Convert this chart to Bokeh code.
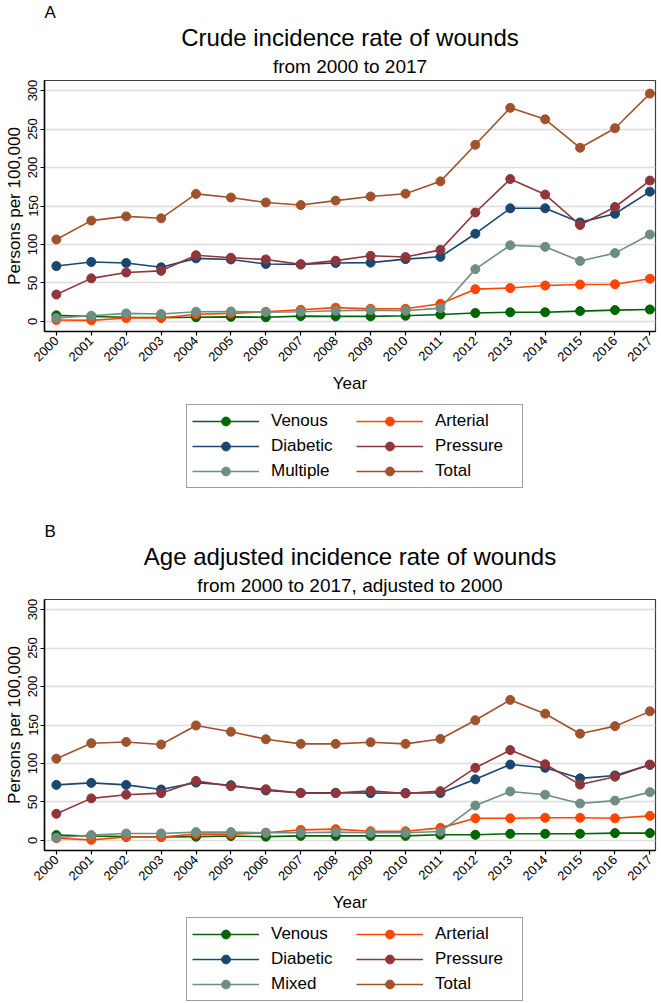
import math
from bokeh.plotting import figure
from bokeh.models import Range1d, FixedTicker, Title, Legend, LegendItem
from bokeh.layouts import column
from bokeh.embed import file_html
from bokeh.resources import INLINE

FONT = "Liberation Sans"

years = list(range(2000, 2018))
year_labels = [str(y) for y in years]
y_ticks = [0, 50, 100, 150, 200, 250, 300]

# Panel A: crude incidence (persons per 100,000)
venous_a = [8, 6.5, 5.5, 5, 5.5, 6, 5.5, 7, 6.7, 6.7, 7.5, 9, 11, 12, 12, 13.5, 14.8, 15.6]
arterial_a = [2, 1.5, 4.5, 4.6, 9.5, 10.5, 12.6, 15.2, 18, 16.5, 16.5, 23, 42, 43.5, 46.7, 48, 48.3, 55.6]
diabetic_a = [72, 77.3, 76, 70.4, 82, 80.6, 74.7, 74.2, 76, 76.4, 81, 84, 114, 147, 147, 128.7, 140, 168.6]
pressure_a = [35, 56, 63.6, 65.8, 86, 82.8, 80.6, 74.2, 79, 85.3, 83.7, 93, 141.5, 185, 164.8, 125.3, 148.7, 183]
multiple_a = [4.6, 7.5, 10.5, 9.7, 12.6, 13, 12.2, 12.6, 13.9, 14.8, 13.9, 17.3, 68, 99, 97, 78.6, 88.8, 113]
total_a = [106.5, 131, 136.5, 134, 165.7, 161, 154.6, 151.2, 157, 162.3, 166, 182, 229.5, 277.5, 262.6, 225.6, 251, 296]

# Panel B: age adjusted incidence
venous_b = [7, 5.8, 5, 4.5, 5, 5.8, 5, 6, 6, 6, 6, 7.4, 7.4, 8.7, 8.7, 8.7, 9.6, 9.6]
arterial_b = [3, 0.8, 4.5, 4.5, 8.3, 8.3, 10, 13.8, 14.7, 12, 12, 16.4, 28.8, 28.8, 29.5, 29.5, 28.8, 32]
diabetic_b = [72.2, 74.8, 72.2, 66.2, 75.2, 71.8, 65, 62, 62, 61.5, 61.7, 61.7, 79.4, 98.6, 94.4, 80.7, 84.5, 98.2]
pressure_b = [34.7, 54.7, 59.5, 61.5, 77.4, 70.5, 66.6, 61.5, 61.5, 64.6, 61.1, 64.1, 94.4, 117.4, 99.1, 72.6, 82.9, 98.6]
mixed_b = [3.6, 7, 9.1, 9.1, 10.9, 10.9, 10, 10, 10.9, 10, 10, 11.6, 45.4, 63.7, 59.5, 48, 51.8, 62.8]
total_b = [106.3, 126.3, 128, 124.7, 149.4, 141.3, 131.5, 125.5, 125.5, 127.6, 125.5, 131.9, 156.2, 182.6, 164.7, 138.7, 148.5, 167.7]

names_a = ["Venous", "Arterial", "Diabetic", "Pressure", "Multiple", "Total"]
names_b = ["Venous", "Arterial", "Diabetic", "Pressure", "Mixed", "Total"]
colors = ["#006400", "#ff4500", "#1a476f", "#90353b", "#6e8e84", "#a0522d"]
legend_order = [0, 2, 4, 1, 3, 5]  # legend columns are filled top to bottom

X0, X1 = 1999.66, 2017.16
Y0, Y1 = -13, 313
W = 661


def panel(letter, title, subtitle, names, series):
    p = figure(width=W, height=397,
               x_range=Range1d(X0, X1), y_range=Range1d(Y0, Y1),
               output_backend="svg", toolbar_location=None,
               min_border_top=76, min_border_left=44, min_border_right=6,
               min_border_bottom=66,
               background_fill_color="white", border_fill_color="white")
    p.outline_line_color = "#404040"
    p.outline_line_width = 1.2
    p.xgrid.visible = False
    p.ygrid.grid_line_color = "#dcdcdc"
    p.ygrid.grid_line_width = 1.5

    p.xaxis.ticker = FixedTicker(ticks=years)
    p.xaxis.major_label_overrides = {y: s for y, s in zip(years, year_labels)}
    p.xaxis.major_label_orientation = math.pi / 4
    p.yaxis.ticker = FixedTicker(ticks=y_ticks)
    p.yaxis.major_label_orientation = "vertical"
    for ax in (p.xaxis, p.yaxis):
        ax.axis_line_color = "black"
        ax.axis_line_width = 1.5
        ax.major_tick_line_color = "black"
        ax.major_tick_line_width = 1.2
        ax.major_tick_out = 4
        ax.major_tick_in = 0
        ax.minor_tick_line_color = None
        ax.major_label_text_font = FONT
        ax.major_label_text_font_size = "13px"
        ax.major_label_text_color = "black"
        ax.axis_label_text_font = FONT
        ax.axis_label_text_font_size = "17px"
        ax.axis_label_text_font_style = "normal"
        ax.axis_label_text_color = "black"
        ax.major_label_standoff = 3
    p.xaxis.axis_label = "Year"
    p.xaxis.axis_label_standoff = 6
    p.yaxis.axis_label = "Persons per 100,000"
    p.yaxis.axis_label_standoff = 2

    for name, vals, col in zip(names, series, colors):
        p.line(years, vals, line_color=col, line_width=1.6)
        p.scatter(years, vals, size=9, fill_color=col, line_color=col)

    # outermost: panel letter; then main title; subtitle closest to the frame
    p.title.text = letter
    p.title.align = "left"
    p.title.text_font = FONT
    p.title.text_font_size = "17px"
    p.title.text_font_style = "normal"
    p.title.text_color = "black"
    p.title.standoff = 0
    p.add_layout(Title(text=subtitle, align="center", text_font=FONT,
                       text_font_size="19px", text_font_style="normal",
                       text_color="black", standoff=7), "above")
    p.add_layout(Title(text=title, align="center", text_font=FONT,
                       text_font_size="24px", text_font_style="normal",
                       text_color="black", standoff=0), "above")
    return p


def legend_fig(names, series, height, bottom):
    # the series are drawn outside this figure's ranges; only the legend shows
    lf = figure(width=W, height=height, x_range=Range1d(0, 1), y_range=Range1d(0, 1),
                output_backend="svg", toolbar_location=None,
                x_axis_location=None, y_axis_location=None,
                min_border=0, outline_line_color=None,
                background_fill_color="white", border_fill_color="white")
    lf.xgrid.visible = False
    lf.ygrid.visible = False
    items = []
    for name, vals, col in zip(names, series, colors):
        ln = lf.line(years, vals, line_color=col, line_width=1.6)
        sc = lf.scatter(years, vals, size=9, fill_color=col, line_color=col)
        items.append(LegendItem(label=name, renderers=[ln, sc]))
    legend = Legend(items=[items[i] for i in legend_order], ncols=2,
                    location=(142, bottom),
                    label_text_font=FONT, label_text_font_size="17px",
                    label_text_color="black",
                    glyph_width=67, glyph_height=22, label_standoff=12,
                    label_width=82, spacing=3, padding=5, margin=0,
                    border_line_color="#404040", border_line_width=1.2,
                    background_fill_color="white", background_fill_alpha=1.0)
    lf.add_layout(legend)
    return lf


series_a = [venous_a, arterial_a, diabetic_a, pressure_a, multiple_a, total_a]
series_b = [venous_b, arterial_b, diabetic_b, pressure_b, mixed_b, total_b]

pa = panel("A", "Crude incidence rate of wounds", "from 2000 to 2017", names_a, series_a)
la = legend_fig(names_a, series_a, 122, 31)
pb = panel("B", "Age adjusted incidence rate of wounds", "from 2000 to 2017, adjusted to 2000", names_b, series_b)
lb = legend_fig(names_b, series_b, 86, 1)

layout = column(pa, la, pb, lb)
open("out.html", "w").write(file_html(layout, INLINE))
